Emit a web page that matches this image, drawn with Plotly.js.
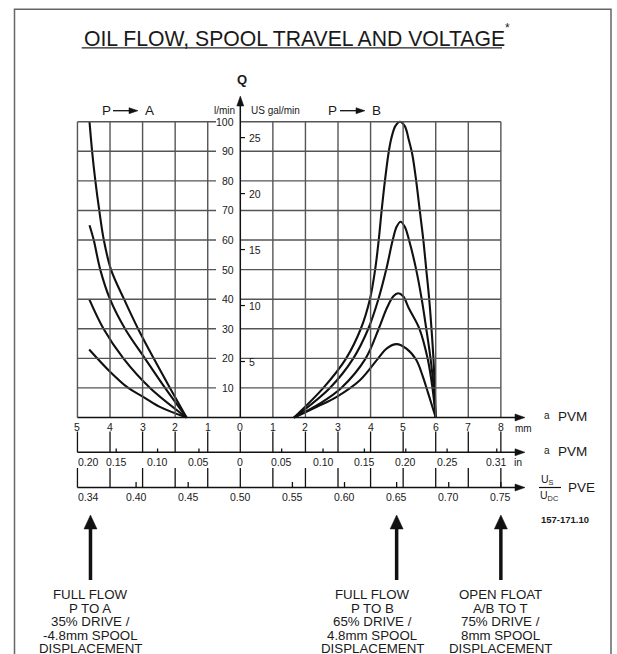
<!DOCTYPE html>
<html><head><meta charset="utf-8">
<script src="https://cdn.plot.ly/plotly-3.0.1.min.js"></script>
<style>html,body{margin:0;padding:0;background:#fff}</style>
</head><body><div id="chart" style="width:617px;height:654px"></div>
<script>
// ---------------- data ----------------
const flowTicks = [10, 20, 30, 40, 50, 60, 70, 80, 90, 100];          // l/min
const galTicks = [5, 10, 15, 20, 25];                                    // US gal/min
const LPM_PER_GAL = 3.785;
const mmTicks = [-5, -4, -3, -2, -1, 0, 1, 2, 3, 4, 5, 6, 7, 8];
const mmLabels = ['5', '4', '3', '2', '1', '0', '1', '2', '3', '4', '5', '6', '7', '8'];
const inchVals = [-0.20, -0.15, -0.10, -0.05, 0, 0.05, 0.10, 0.15, 0.20, 0.25, 0.31];
const inchLabels = ['0.20', '0.15', '0.10', '0.05', '0', '0.05', '0.10', '0.15', '0.20', '0.25', '0.31'];
const MM_PER_INCH = 25.4;
const pveVals = [0.34, 0.40, 0.45, 0.50, 0.55, 0.60, 0.65, 0.70, 0.75];
const pveLabels = ['0.34', '0.40', '0.45', '0.50', '0.55', '0.60', '0.65', '0.70', '0.75'];
const MM_PER_PVE = 32;   // spool travel (mm) per unit of Us/Udc away from 0.50

// P -> A curves (spool travel mm, flow l/min)
const paX1 = [-4.63, -4.55, -4.45, -4.33, -4.19, -3.97, -3.57, -3.14, -2.66, -2.16, -1.65];
const paY1 = [100, 90, 80, 70, 60, 50, 40, 30, 20, 10, 0];
const paX2 = [-4.63, -4.50, -4.30, -4.00, -3.54, -2.93, -2.31, -1.65];
const paY2 = [65, 60, 50, 40, 30, 20, 10, 0];
const paX3 = [-4.64, -4.20, -3.59, -2.77, -1.65];
const paY3 = [40, 30, 20, 10, 0];
const paX4 = [-4.64, -4.00, -3.44, -2.98, -2.47, -1.65];
const paY4 = [23, 15.5, 10, 7, 3.6, 0];

// P -> B curves
const pbX1 = [1.65, 2.55, 3.25, 3.70, 3.98, 4.14, 4.25, 4.34, 4.44, 4.56, 4.64, 4.76, 4.90, 5.05, 5.17, 5.28, 5.40, 5.51, 5.62, 5.71, 5.80, 5.87, 5.93, 5.97, 6.00];
const pbY1 = [0, 10, 20, 30, 40, 50, 60, 70, 80, 90, 94.5, 98.5, 100, 98.5, 94, 89, 80, 70, 60, 50, 40, 30, 20, 10, 0];
const pbX2 = [1.65, 2.75, 3.47, 3.93, 4.24, 4.48, 4.68, 4.80, 4.92, 5.05, 5.18, 5.40, 5.57, 5.71, 5.84, 5.94, 6.00];
const pbY2 = [0, 10, 20, 30, 40, 50, 60, 64.5, 66.2, 64.5, 60, 50, 40, 30, 20, 10, 0];
const pbX3 = [1.65, 2.45, 3.10, 3.85, 4.25, 4.50, 4.70, 4.85, 5.00, 5.17, 5.50, 5.75, 5.90, 6.00];
const pbY3 = [0, 4.8, 10, 20, 30, 37, 41, 42, 41, 37, 30, 20, 10, 0];
const pbX4 = [1.65, 2.35, 2.96, 3.68, 4.19, 4.50, 4.80, 5.10, 5.40, 5.60, 5.76, 6.00];
const pbY4 = [0, 3.65, 7.0, 12.7, 19.4, 23.4, 24.8, 23.3, 19.5, 14, 8.5, 0];

// call-outs below the scales
const calloutMM = [-4.6, 4.8, 8.0];
const calloutLines = [
  ['FULL FLOW', 'P TO A', '35% DRIVE /', '-4.8mm SPOOL', 'DISPLACEMENT'],
  ['FULL FLOW', 'P TO B', '65% DRIVE /', '4.8mm SPOOL', 'DISPLACEMENT'],
  ['OPEN FLOAT', 'A/B TO T', '75% DRIVE /', '8mm SPOOL', 'DISPLACEMENT']
];

// ---------------- layout helpers ----------------
const W = 617, H = 654;
const X0 = 240.3, SX = 32.57, Y0 = 417.5, SY = 2.958;
const px2x = p => (p - X0) / SX;
const px2y = p => (Y0 - p) / SY;
const x2px = x => X0 + x * SX;
const y2px = y => Y0 - y * SY;
const FONT = 'Liberation Sans, Arial, Helvetica, sans-serif';
const TXT = '#1a1a1a';
const GRID = '#555555';
const INK = '#111111';

const shapes = [];
const ann = [];
const line = (x0, y0, x1, y1, color, width) => shapes.push({type: 'line', xref: 'x', yref: 'y', x0, y0, x1, y1, line: {color, width}});
const text = (x, y, t, size, xanchor) => ann.push({xref: 'x', yref: 'y', x, y, text: t, showarrow: false, xanchor: xanchor || 'center', yanchor: 'middle', borderpad: 0, font: {family: FONT, size, color: TXT}});
// arrow drawn as a shaft line plus a filled triangle head, all in data coordinates
const arrow = (xTail, yTail, xTip, yTip, width, headLen, headW) => {
  const tx = x2px(xTail), ty = y2px(yTail), hx = x2px(xTip), hy = y2px(yTip);
  const L = Math.hypot(hx - tx, hy - ty), ux = (hx - tx) / L, uy = (hy - ty) / L;
  const bx = hx - ux * headLen, by = hy - uy * headLen;
  line(xTail, yTail, px2x(bx + ux), px2y(by + uy), INK, width);
  const p1 = [bx - uy * headW / 2, by + ux * headW / 2], p2 = [bx + uy * headW / 2, by - ux * headW / 2];
  const P = (p) => px2x(p[0]) + ',' + px2y(p[1]);
  shapes.push({type: 'path', xref: 'x', yref: 'y', path: 'M' + P([hx, hy]) + 'L' + P(p1) + 'L' + P(p2) + 'Z', fillcolor: INK, line: {color: INK, width: 0.5}});
};

// border
shapes.push({type: 'rect', xref: 'paper', yref: 'paper', x0: 14.5 / W, x1: 611 / W, y0: -0.05, y1: 1 - 9.3 / H, line: {color: '#666', width: 1.5}});

// grid
const xLeftEnd = px2x(216);
mmTicks.forEach(m => { if (m !== 0) line(m, 0, m, 100, GRID, 1.4); });
flowTicks.forEach(f => { line(-5, f, xLeftEnd, f, GRID, 1.4); line(0, f, 8, f, GRID, 1.4); });

// flow axis
arrow(0, 0, 0, px2y(96), 1.5, 10, 7);
flowTicks.forEach(f => text(px2x(235), f, String(f), 10.5, 'right'));
galTicks.forEach(g => { const l = g * LPM_PER_GAL; line(0, l, px2x(245), l, INK, 1.2); text(px2x(247.5), l, String(g), 10.5, 'left'); });
text(px2x(241.7), px2y(79.5), '<b>Q</b>', 13);
text(px2x(235.5), px2y(110.7), 'l/min', 10, 'right');
text(px2x(249.5), px2y(110.7), 'US gal/min', 10, 'left');

// direction labels
text(px2x(106), px2y(110.7), 'P', 13.5);
arrow(px2x(113), px2y(110.7), px2x(138), px2y(110.7), 1.3, 9, 6);
text(px2x(149), px2y(110.7), 'A', 13.5);
text(px2x(332.5), px2y(110.7), 'P', 13.5);
arrow(px2x(340), px2y(110.7), px2x(365), px2y(110.7), 1.3, 9, 6);
text(px2x(376), px2y(110.7), 'B', 13.5);

// mm scale
const xTip = px2x(525);
arrow(-5, 0, xTip, 0, 1.5, 10, 7);
mmTicks.forEach((m, i) => text(m, px2y(426.7), mmLabels[i], 10.5));
text(px2x(523.5), px2y(428), 'mm', 10);

// inch scale
const yIn = px2y(452.3);
arrow(-5, yIn, xTip, yIn, 1.5, 10, 7);
mmTicks.forEach(m => line(m, px2y(431.5), m, yIn, INK, 1.3));
inchVals.forEach((v, i) => {
  const x = v * MM_PER_INCH;
  if (v !== 0 && x >= -5 && x <= 8) line(x, yIn, x, px2y(448.5), INK, 1.3);
  text(Math.max(x, -5), px2y(462.3), inchLabels[i], 10.5, x < -5 ? 'left' : 'center');
});
text(px2x(513), px2y(462.3), 'in', 10.5, 'left');

// PVE scale
const yP = px2y(487.5);
arrow(-5, yP, xTip, yP, 1.5, 10, 7);
mmTicks.forEach(m => line(m, px2y(468), m, yP, INK, 1.3));
pveVals.forEach((v, i) => {
  const x = (v - 0.5) * MM_PER_PVE;
  if (Math.abs(v - 0.5) > 1e-9 && x >= -5 && x <= 8) line(x, yP, x, px2y(482), INK, 1.3);
  text(Math.max(x, -5), px2y(497), pveLabels[i], 10.5, x < -5 ? 'left' : 'center');
});

// right-hand scale names
[416.5, 451.5].forEach(py => {
  text(px2x(546.5), px2y(py - 1.5), 'a', 10);
  text(px2x(556.5), px2y(py), 'PVM', 13.5, 'left');
});
text(px2x(547.5), px2y(480), 'U<sub>S</sub>', 10.5);
line(px2x(539), px2y(487.5), px2x(561), px2y(487.5), INK, 1.2);
text(px2x(549), px2y(495.5), 'U<sub>DC</sub>', 10.5);
text(px2x(566.5), px2y(487.5), 'PVE', 13.5, 'left');
text(px2x(565), px2y(519), '<b>157-171.10</b>', 9.5);

// call-outs
const textOffsetPx = [0, -24.5, 0];
const linePx = [594.5, 608, 621.5, 635, 648];
calloutMM.forEach((m, i) => {
  arrow(m, px2y(580), m, px2y(515), 3.5, 14, 13);
  const tx = m + textOffsetPx[i] / SX;
  calloutLines[i].forEach((t, j) => text(tx, px2y(linePx[j]), t, 13.3));
});

// title
ann.push({xref: 'paper', yref: 'paper', x: 81.7 / W, y: 1 - 38.5 / H, xanchor: 'left', yanchor: 'middle', text: 'OIL FLOW, SPOOL TRAVEL AND VOLTAGE', showarrow: false, font: {family: FONT, size: 21.2, color: TXT}});
ann.push({xref: 'paper', yref: 'paper', x: 507 / W, y: 1 - 28 / H, xanchor: 'center', yanchor: 'middle', text: '*', showarrow: false, font: {family: FONT, size: 12, color: TXT}});
shapes.push({type: 'line', xref: 'paper', yref: 'paper', x0: 81.7 / W, x1: 502 / W, y0: 1 - 47.8 / H, y1: 1 - 47.8 / H, line: {color: '#222', width: 1.3}});

// ---------------- traces ----------------
const curve = (x, y) => ({x, y, type: 'scatter', mode: 'lines', line: {color: INK, width: 2.1, shape: 'spline', smoothing: 1}, hoverinfo: 'skip', showlegend: false});
const data = [
  curve(paX1, paY1), curve(paX2, paY2), curve(paX3, paY3), curve(paX4, paY4),
  curve(pbX1, pbY1), curve(pbX2, pbY2), curve(pbX3, pbY3), curve(pbX4, pbY4)
];

const layout = {
  width: W, height: H, autosize: false,
  margin: {l: 0, r: 0, t: 0, b: 0, pad: 0},
  paper_bgcolor: '#fff', plot_bgcolor: '#fff',
  showlegend: false,
  xaxis: {range: [px2x(0), px2x(W)], visible: false, fixedrange: true},
  yaxis: {range: [px2y(H), px2y(0)], visible: false, fixedrange: true},
  shapes, annotations: ann
};
Plotly.newPlot('chart', data, layout, {staticPlot: true, displayModeBar: false});
</script></body></html>
